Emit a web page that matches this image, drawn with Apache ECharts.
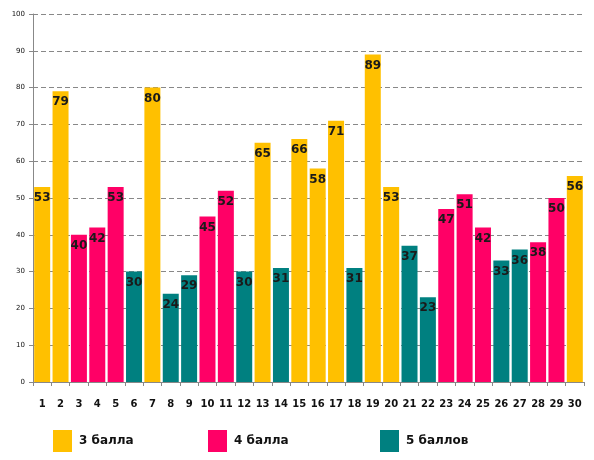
<!DOCTYPE html>
<html>
<head>
<meta charset="utf-8">
<script src="https://cdn.jsdelivr.net/npm/echarts@6/dist/echarts.min.js"></script>
<style>
  html, body { margin: 0; padding: 0; background: #fff; }
  #chart { width: 594px; height: 460px; }
</style>
</head>
<body>
<div id="chart"></div>
<script>
const students = ['1','2','3','4','5','6','7','8','9','10','11','12','13','14','15',
  '16','17','18','19','20','21','22','23','24','25','26','27','28','29','30'];
const scores = [53, 79, 40, 42, 53, 30, 80, 24, 29, 45, 52, 30, 65, 31, 66,
  58, 71, 31, 89, 53, 37, 23, 47, 51, 42, 33, 36, 38, 50, 56];
// grade of each student: 3, 4 or 5
const grades = [3, 3, 4, 4, 4, 5, 3, 5, 5, 4, 4, 5, 3, 5, 3,
  3, 3, 5, 3, 3, 5, 5, 4, 4, 4, 5, 5, 4, 4, 3];
const gradeNames = ['3 балла', '4 балла', '5 баллов'];
const gradeKeys = [3, 4, 5];
const gradeColors = ['#FFC000', '#FF0066', '#008080'];
const yTicks = [0, 10, 20, 30, 40, 50, 60, 70, 80, 90, 100];

const chart = echarts.init(document.getElementById('chart'), null, { renderer: 'canvas' });

const series = gradeKeys.map((g, i) => ({
  name: gradeNames[i],
  type: 'bar',
  barWidth: 16,
  barGap: '-100%',
  itemStyle: { color: gradeColors[i] },
  label: {
    show: true,
    position: 'insideTop',
    distance: 5,
    color: '#1a1a1a',
    fontFamily: 'DejaVu Sans',
    fontWeight: 'bold',
    fontSize: 12
  },
  data: scores.map((v, idx) => (grades[idx] === g ? v : null))
}));

const legendLefts = [48, 203, 375];
const legends = gradeNames.map((name, i) => ({
  data: [name],
  left: legendLefts[i],
  top: 425,
  itemWidth: 19,
  itemHeight: 22,
  itemGap: 0,
  icon: 'rect',
  textStyle: { fontFamily: 'DejaVu Sans', fontWeight: 'bold', fontSize: 12, color: '#111', padding: [0, 0, 0, 2] }
}));

chart.setOption({
  animation: false,
  grid: { left: 33, right: 10, top: 14, bottom: 78 },
  legend: legends,
  xAxis: {
    type: 'category',
    data: students,
    axisLine: { lineStyle: { color: '#888' } },
    axisTick: { show: true, interval: 0, length: 4, lineStyle: { color: '#888' } },
    axisLabel: { interval: 0, color: '#111', fontWeight: 'bold', fontSize: 10, fontFamily: 'DejaVu Sans', margin: 17 }
  },
  yAxis: {
    type: 'value',
    min: yTicks[0],
    max: yTicks[yTicks.length - 1],
    interval: 10,
    axisLine: { show: true, lineStyle: { color: '#888' } },
    axisTick: { show: true, length: 4, lineStyle: { color: '#888' } },
    axisLabel: { color: '#111', fontSize: 7, fontFamily: 'DejaVu Sans', margin: 8 },
    splitLine: { lineStyle: { color: '#888', type: [5, 3] } }
  },
  series
});
</script>
</body>
</html>
